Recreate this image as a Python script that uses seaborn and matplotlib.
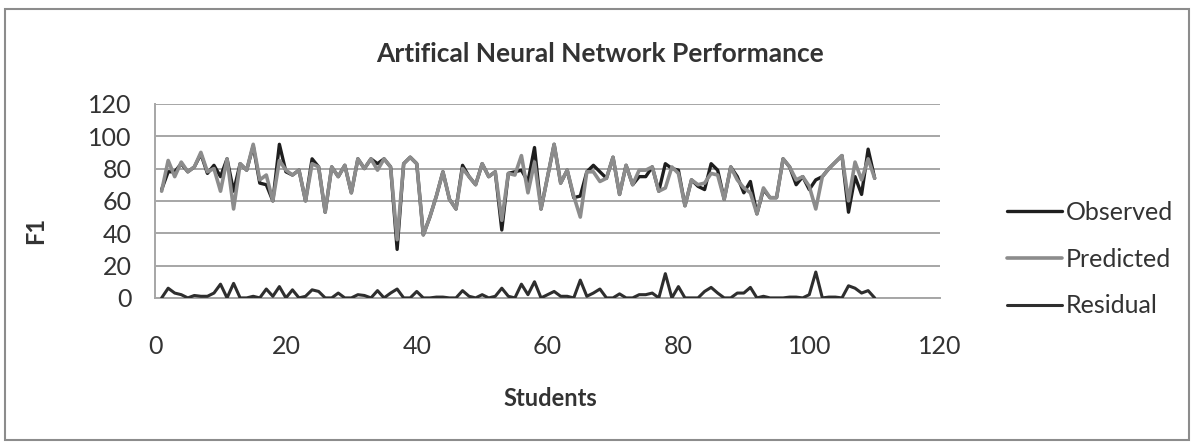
import numpy as np
import pandas as pd
import seaborn as sns
import matplotlib
matplotlib.use("Agg")
from matplotlib import pyplot as plt
from matplotlib.patches import Rectangle

# %% Data
students = list(range(1, 111))

observed = [67, 78, 78, 83, 78, 81, 89, 77, 82, 75, 86, 66, 83, 79, 94, 71, 70, 60, 95, 78,
            76, 79, 60, 86, 81, 53, 81, 75, 82, 65, 86, 80, 86, 83, 86, 81, 30, 83, 87, 83,
            39, 50, 63, 78, 61, 55, 82, 75, 70, 83, 75, 78, 42, 77, 78, 79, 72, 93, 55, 75,
            95, 71, 79, 62, 63, 78, 82, 78, 74, 87, 64, 82, 70, 75, 75, 81, 66, 83, 80, 79,
            57, 73, 69, 67, 83, 79, 61, 81, 75, 65, 72, 52, 67, 62, 62, 86, 81, 70, 75, 67,
            73, 75, 80, 84, 88, 53, 75, 64, 92, 74]

predicted = [66, 85, 75, 84, 78, 81, 90, 78, 80, 66, 86, 55, 83, 79, 95, 73, 76, 60, 85, 79,
             76, 79, 60, 83, 81, 53, 81, 75, 82, 65, 86, 80, 86, 79, 86, 81, 36, 83, 87, 83,
             39, 50, 63, 78, 61, 55, 80, 75, 70, 83, 75, 78, 48, 77, 76, 88, 65, 84, 55, 75,
             95, 71, 79, 63, 50, 78, 78, 72, 74, 87, 64, 82, 70, 79, 79, 81, 66, 68, 81, 77,
             57, 73, 70, 71, 77, 76, 61, 81, 73, 68, 65, 52, 68, 62, 62, 86, 81, 73, 75, 69,
             55, 75, 80, 84, 88, 60, 84, 73, 86, 74]

residual = [0, 6, 3, 2, 0, 1.5, 1, 1, 3, 8.5, 0, 9, 0, 0, 1, 0, 5.5, 1, 7, 0,
            5, 0, 1, 5, 4, 0, 0, 3, 0, 0, 2, 1.5, 0, 4.5, 0, 3, 5.5, 0, 0, 4,
            0, 0, 0.5, 0.5, 0, 0, 4.5, 1, 0, 2, 0, 1, 6, 1, 0, 8.5, 2, 10, 0, 2,
            4, 1, 1, 0, 11, 1, 3, 5.5, 0, 0, 2.5, 0, 0, 2, 2, 3, 0, 15, 0, 7,
            0, 0, 0, 4, 6.5, 3, 0, 0, 3, 3, 6.5, 0, 1, 0, 0, 0, 0.5, 0.5, 0, 2,
            16, 0, 0.5, 0.5, 0, 7.5, 6, 3, 4.5, 0]

series_names = ['Observed', 'Predicted', 'Residual']
series_colors = ['#1e1e1e', '#8c8c8c', '#2e2e2e']
series_widths = [2.4, 2.6, 2.2]

ticks = [0, 20, 40, 60, 80, 100, 120]

df = pd.DataFrame({
    'Students': students * 3,
    'F1': observed + predicted + residual,
    'Series': [s for s in series_names for _ in students],
})

# %% Plot
sns.set_style("white")
plt.rcParams['font.family'] = ['Lato', 'DejaVu Sans']

fig = plt.figure(figsize=(11.93, 4.42), dpi=100)
ax = fig.add_axes([0.130, 0.326, 0.658, 0.439])

# grey predicted line sits on top of the black observed one, as in the reference
for i, name in enumerate(series_names):
    sns.lineplot(data=df[df['Series'] == name], x='Students', y='F1',
                 color=series_colors[i], linewidth=series_widths[i],
                 ax=ax, label=name, zorder=3 + i)

ax.set_xlim(0, 120)
ax.set_ylim(0, 120)
ax.set_xticks(ticks)
ax.set_yticks(ticks)
ax.yaxis.grid(True, color='#a6a6a6', linewidth=1.4)
ax.xaxis.grid(False)
for side in ['top', 'right']:
    ax.spines[side].set_visible(False)
for side in ['left', 'bottom']:
    ax.spines[side].set_color('#a6a6a6')
    ax.spines[side].set_linewidth(1.4)

ax.tick_params(axis='x', length=0, pad=27, labelsize=18, labelcolor='#333333')
ax.tick_params(axis='y', length=0, pad=17, labelsize=18, labelcolor='#333333')

ax.set_xlabel('Students', fontsize=17, fontweight='bold', color='#333333')
ax.set_ylabel('F1', fontsize=17, fontweight='bold', color='#333333')
ax.xaxis.set_label_coords(0.503, -0.46)
ax.yaxis.set_label_coords(-0.138, 0.35)

fig.text(0.503, 0.878, 'Artifical Neural Network Performance', ha='center', va='center',
         fontsize=19, fontweight='bold', color='#333333')

handles, labels = ax.get_legend_handles_labels()
leg = ax.legend(handles, labels,
                loc='center left', bbox_to_anchor=(0.834, 0.414),
                bbox_transform=fig.transFigure, frameon=False, fontsize=18,
                handlelength=2.2, handletextpad=0.15, labelspacing=0.95, borderpad=0)
for t in leg.get_texts():
    t.set_color('#333333')

# outer chart border
fig.patches.append(Rectangle((0.004, 0.004), 0.993, 0.975, transform=fig.transFigure,
                             fill=False, edgecolor='#8c8c8c', linewidth=1.5))

fig.savefig('out.png', dpi=100)
